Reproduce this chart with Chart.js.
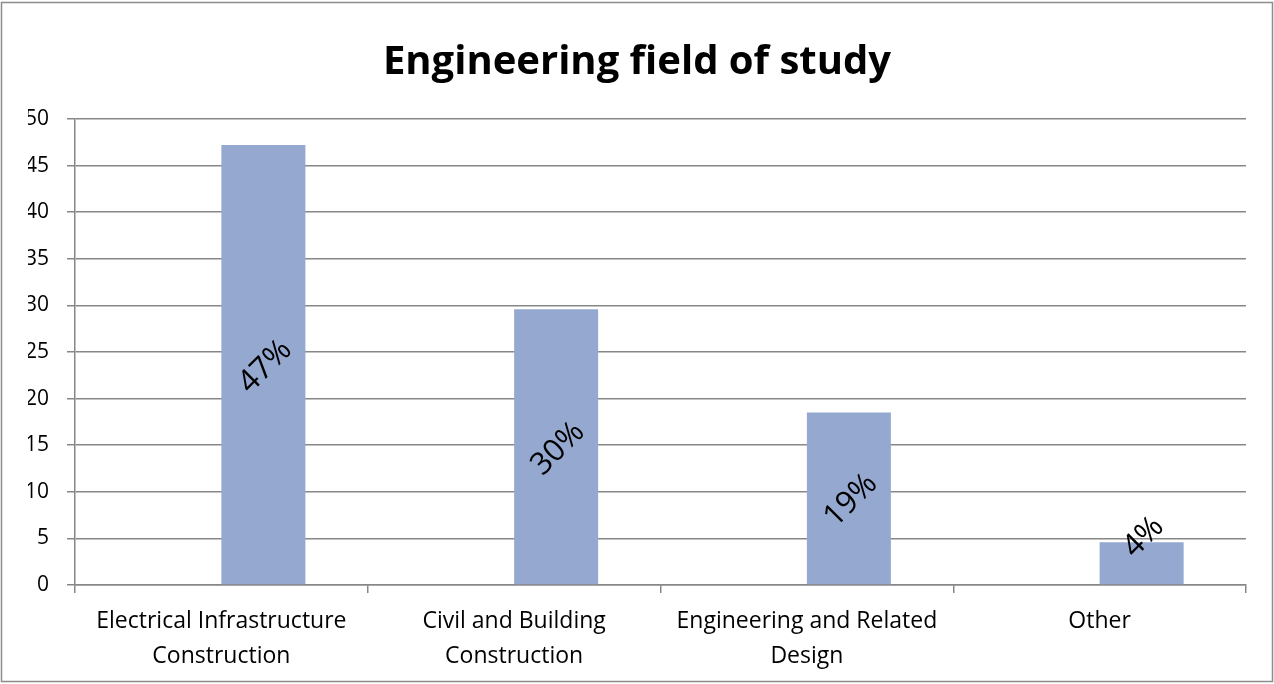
<!DOCTYPE html>
<html>
<head>
<meta charset="utf-8">
<script src="https://cdn.jsdelivr.net/npm/chart.js@4"></script>
<style>
  html, body { margin: 0; padding: 0; background: #fff; }
  #wrap { width: 1274px; height: 684px; }
</style>
</head>
<body>
<div id="wrap"><canvas id="myChart" width="1274" height="684"></canvas></div>
<script>
var categories = [
    ['Electrical Infrastructure', 'Construction'],
    ['Civil and Building', 'Construction'],
    ['Engineering and Related', 'Design'],
    'Other'
];
// the source chart had an empty first series, which pushes the bars right of centre
var emptySeries = [null, null, null, null];
var values = [47.2, 29.6, 18.5, 4.6];
var pctLabels = ['47%', '30%', '19%', '4%'];
var yTicks = [0, 5, 10, 15, 20, 25, 30, 35, 40, 45, 50];

var fontFamily = "'Open Sans', 'Noto Sans', sans-serif";
var gridColor = '#878787';

// rotated % labels on the bars, plus the outer frame
var barLabels = {
    id: 'barLabels',
    afterDatasetsDraw: function (chart) {
        var ctx = chart.ctx;
        var meta = chart.getDatasetMeta(1);
        ctx.save();
        ctx.font = '31px ' + fontFamily;
        ctx.fillStyle = '#000';
        ctx.textAlign = 'center';
        ctx.textBaseline = 'middle';
        meta.data.forEach(function (bar, i) {
            var y = (bar.y + bar.base) / 2 + 2;
            if (bar.base - bar.y < 60) y = bar.y - 5;
            ctx.save();
            ctx.translate(bar.x + 2, y);
            ctx.rotate(-Math.PI / 4);
            ctx.fillText(pctLabels[i], 0, 0);
            ctx.restore();
        });
        ctx.restore();
    },
    afterDraw: function (chart) {
        var ctx = chart.ctx;
        ctx.save();
        ctx.strokeStyle = '#8c8c8c';
        ctx.lineWidth = 1.5;
        ctx.strokeRect(1.5, 2.5, chart.width - 3, chart.height - 5);
        ctx.restore();
    }
};

var config = {
    type: 'bar',
    data: {
        labels: categories,
        datasets: [{
            data: emptySeries,
            backgroundColor: '#95a9d0',
            borderWidth: 0
        }, {
            data: values,
            backgroundColor: '#95a9d0',
            borderWidth: 0
        }]
    },
    options: {
        responsive: false,
        animation: false,
        datasets: {
            bar: { categoryPercentage: 0.574, barPercentage: 1 }
        },
        layout: {
            padding: { left: 28, right: 28, top: 33, bottom: 2 }
        },
        plugins: {
            legend: { display: false },
            tooltip: { enabled: false },
            title: {
                display: true,
                text: 'Engineering field of study',
                color: '#000',
                font: { family: fontFamily, size: 40, weight: 'bold' },
                padding: { top: 6, bottom: 32 }
            }
        },
        scales: {
            x: {
                offset: true,
                afterFit: function (axis) {
                    axis.height = 97;
                },
                grid: {
                    offset: true,
                    drawOnChartArea: false,
                    drawTicks: true,
                    tickLength: 8,
                    color: gridColor,
                    lineWidth: 1.5
                },
                border: { display: true, color: gridColor, width: 1.5 },
                ticks: {
                    color: '#000',
                    font: { family: fontFamily, size: 23, lineHeight: 1.52 },
                    padding: 11,
                    maxRotation: 0,
                    autoSkip: false
                }
            },
            y: {
                min: 0,
                max: 50,
                afterBuildTicks: function (axis) {
                    axis.ticks = yTicks.map(function (v) { return { value: v }; });
                },
                afterFit: function (axis) {
                    axis.width = 47;
                },
                grid: {
                    color: gridColor,
                    lineWidth: 1.5,
                    drawTicks: true,
                    tickLength: 8
                },
                border: { display: true, color: gridColor, width: 1.5 },
                ticks: {
                    color: '#000',
                    font: { family: fontFamily, size: 21 },
                    padding: 18
                }
            }
        }
    },
    plugins: [barLabels]
};

var ctx = document.getElementById('myChart').getContext('2d');
window.myChart = new Chart(ctx, config);
</script>
</body>
</html>
